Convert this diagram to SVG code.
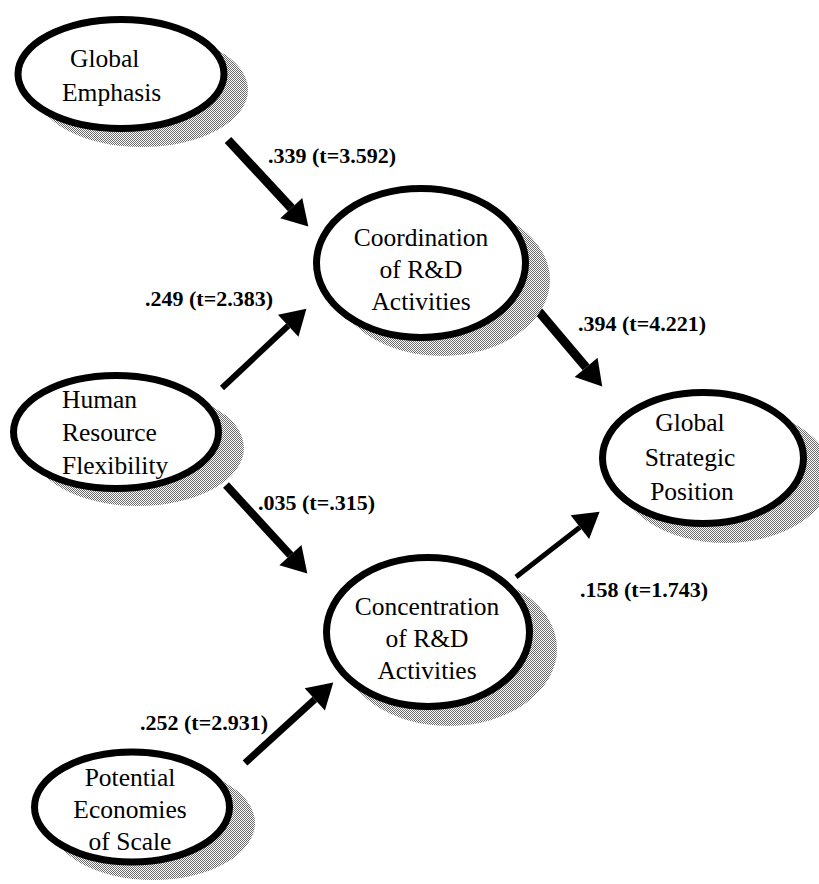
<svg xmlns="http://www.w3.org/2000/svg" width="819" height="884" viewBox="0 0 819 884">
<style>
.node{fill:#fff;stroke:#000;stroke-width:7}
.shadow{fill:url(#dots);stroke:none}
.t{font-family:"Liberation Serif","Times New Roman",serif;font-size:25.5px;fill:#000}
.lbl{font-family:"Liberation Serif","Times New Roman",serif;font-size:22px;font-weight:bold;fill:#000}
.c{stroke:#000;fill:none}
</style>
<defs>
<pattern id="dots" width="2" height="2" patternUnits="userSpaceOnUse">
<rect width="2" height="2" fill="#fff"/>
<rect x="0" y="0" width="1" height="1" fill="#6a6a6a"/>
<rect x="1" y="1" width="1" height="1" fill="#6a6a6a"/>
</pattern>
<marker id="ah" markerUnits="userSpaceOnUse" markerWidth="26" markerHeight="30" refX="0" refY="15" orient="auto" overflow="visible">
<path d="M0,0 L25,15 L0,30 z" fill="#000"/>
</marker>
</defs>
<rect width="819" height="884" fill="#fff"/>

<g id="connectors">
<line class="c" x1="228" y1="140" x2="291.3" y2="208.1" stroke-width="9" marker-end="url(#ah)"/>
<line class="c" x1="222" y1="388" x2="288.2" y2="325.8" stroke-width="6" marker-end="url(#ah)"/>
<line class="c" x1="535" y1="307" x2="586.1" y2="367.4" stroke-width="9" marker-end="url(#ah)"/>
<line class="c" x1="226" y1="485" x2="290.4" y2="555.1" stroke-width="8" marker-end="url(#ah)"/>
<line class="c" x1="516" y1="577" x2="579.9" y2="527.2" stroke-width="5" marker-end="url(#ah)"/>
<line class="c" x1="245" y1="763" x2="314.8" y2="699.3" stroke-width="7" marker-end="url(#ah)"/>
<text class="lbl" x="268" y="163">.339 (t=3.592)</text>
<text class="lbl" x="145" y="306">.249 (t=2.383)</text>
<text class="lbl" x="578" y="331">.394 (t=4.221)</text>
<text class="lbl" x="258" y="510">.035 (t=.315)</text>
<text class="lbl" x="580" y="597">.158 (t=1.743)</text>
<text class="lbl" x="140" y="730">.252 (t=2.931)</text>
</g>

<g id="global-emphasis">
<ellipse class="shadow" cx="142" cy="90" rx="106" ry="57"/>
<ellipse class="node" cx="121" cy="74" rx="103" ry="54.5"/>
<text class="t" x="70" y="67">Global</text>
<text class="t" x="62" y="101">Emphasis</text>
</g>

<g id="coordination">
<ellipse class="shadow" cx="442" cy="280" rx="108" ry="76"/>
<ellipse class="node" cx="421" cy="263" rx="104.5" ry="74.5"/>
<text class="t" x="421" y="246" text-anchor="middle">Coordination</text>
<text class="t" x="421" y="278" text-anchor="middle">of R&amp;D</text>
<text class="t" x="421" y="310" text-anchor="middle">Activities</text>
</g>

<g id="human-resource">
<ellipse class="shadow" cx="138" cy="448" rx="106" ry="58"/>
<ellipse class="node" cx="116" cy="432" rx="102.5" ry="56.5"/>
<text class="t" x="62" y="408">Human</text>
<text class="t" x="62" y="441">Resource</text>
<text class="t" x="62" y="474">Flexibility</text>
</g>

<g id="global-strategic">
<ellipse class="shadow" cx="725" cy="475" rx="106" ry="68"/>
<ellipse class="node" cx="703" cy="458" rx="100.5" ry="65.5"/>
<text class="t" x="690" y="431" text-anchor="middle">Global</text>
<text class="t" x="690" y="466" text-anchor="middle">Strategic</text>
<text class="t" x="692" y="500" text-anchor="middle">Position</text>
</g>

<g id="concentration">
<ellipse class="shadow" cx="449" cy="649" rx="108" ry="77"/>
<ellipse class="node" cx="428" cy="632" rx="101.5" ry="74.5"/>
<text class="t" x="427" y="615" text-anchor="middle">Concentration</text>
<text class="t" x="427" y="647" text-anchor="middle">of R&amp;D</text>
<text class="t" x="427" y="679" text-anchor="middle">Activities</text>
</g>

<g id="potential-economies">
<ellipse class="shadow" cx="153" cy="823" rx="102" ry="57"/>
<ellipse class="node" cx="132" cy="807" rx="97.5" ry="55"/>
<text class="t" x="130" y="786" text-anchor="middle">Potential</text>
<text class="t" x="130" y="818" text-anchor="middle">Economies</text>
<text class="t" x="130" y="850" text-anchor="middle">of Scale</text>
</g>
</svg>
